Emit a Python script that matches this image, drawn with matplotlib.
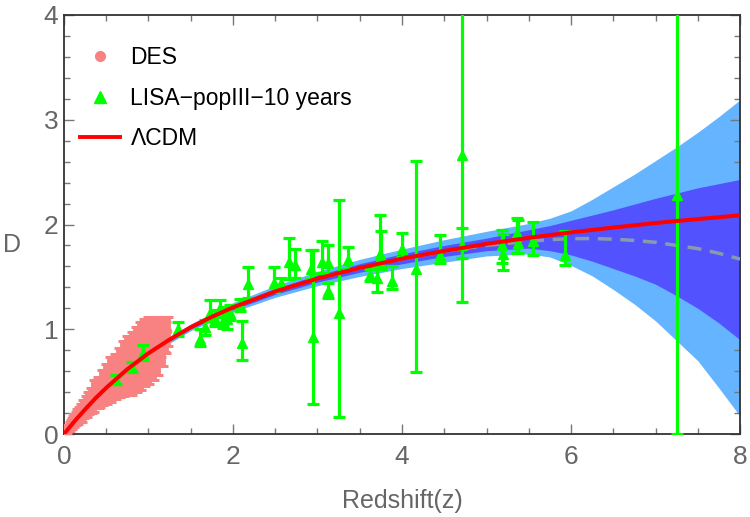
import matplotlib
matplotlib.use("Agg")
import matplotlib.pyplot as plt
from matplotlib.lines import Line2D

plt.rcParams['font.family'] = ['Liberation Sans Narrow', 'Liberation Sans', 'DejaVu Sans']

# LCDM curve
lcdm_z = [0, 0.125, 0.25, 0.375, 0.5, 0.75, 1.0, 1.25, 1.5, 1.75, 2.0, 2.5, 3.0, 3.5, 4.0, 4.5, 5.0, 5.5, 6.0, 6.5, 7.0, 7.5, 8.0]
lcdm_D = [0, 0.122, 0.235, 0.343, 0.441, 0.619, 0.771, 0.902, 1.019, 1.119, 1.209, 1.361, 1.484, 1.586, 1.674, 1.748, 1.815, 1.873, 1.925, 1.971, 2.014, 2.052, 2.088]

# reconstruction: mean and 1/2 sigma bands
band_z = [0, 0.5, 1.0, 1.5, 2.0, 2.5, 3.0, 3.5, 4.0, 4.5, 5.0, 5.5, 5.75, 6.0, 6.25, 6.5, 6.75, 7.0, 7.25, 7.5, 7.75, 8.0]
rec_mean = [0, 0.441, 0.771, 1.019, 1.209, 1.361, 1.484, 1.585, 1.672, 1.745, 1.800, 1.840, 1.855, 1.865, 1.866, 1.860, 1.848, 1.830, 1.800, 1.770, 1.725, 1.670]
rec_hi1 = [0, 0.448, 0.783, 1.035, 1.231, 1.389, 1.518, 1.626, 1.720, 1.800, 1.870, 1.950, 1.990, 2.040, 2.090, 2.140, 2.195, 2.250, 2.300, 2.350, 2.390, 2.430]
rec_lo1 = [0, 0.434, 0.759, 1.003, 1.187, 1.333, 1.450, 1.545, 1.625, 1.695, 1.750, 1.775, 1.750, 1.710, 1.650, 1.580, 1.510, 1.430, 1.320, 1.200, 1.060, 0.900]
rec_hi2 = [0, 0.455, 0.795, 1.051, 1.253, 1.417, 1.552, 1.667, 1.765, 1.855, 1.935, 2.010, 2.060, 2.130, 2.240, 2.360, 2.480, 2.610, 2.740, 2.880, 3.030, 3.190]
rec_lo2 = [0, 0.427, 0.747, 0.987, 1.165, 1.305, 1.416, 1.504, 1.580, 1.640, 1.700, 1.720, 1.690, 1.610, 1.510, 1.380, 1.240, 1.080, 0.890, 0.700, 0.440, 0.170]

# DES points
des_z = [0.02, 0.04, 0.05, 0.07, 0.08, 0.10, 0.11, 0.12, 0.14, 0.15, 0.17, 0.18, 0.20, 0.21, 0.23, 0.24,
         0.26, 0.27, 0.29, 0.30, 0.32, 0.33, 0.35, 0.36, 0.38, 0.40, 0.41, 0.43, 0.45, 0.46, 0.48, 0.50,
         0.51, 0.53, 0.55, 0.56, 0.58, 0.60, 0.61, 0.63, 0.65, 0.66, 0.68, 0.70, 0.71, 0.73, 0.75, 0.76,
         0.78, 0.80, 0.81, 0.83, 0.85, 0.86, 0.88, 0.90, 0.91, 0.93, 0.95, 0.96, 0.98, 1.00, 1.01, 1.03,
         1.05, 1.06, 1.08, 1.10, 1.11, 1.13, 1.15, 1.17, 1.19, 1.21, 1.23]
des_D = [0.02, 0.04, 0.06, 0.07, 0.09, 0.10, 0.12, 0.13, 0.15, 0.17, 0.16, 0.19, 0.21, 0.18, 0.24, 0.22,
         0.27, 0.24, 0.30, 0.27, 0.33, 0.29, 0.40, 0.31, 0.36, 0.42, 0.34, 0.38, 0.47, 0.40, 0.44, 0.52,
         0.41, 0.47, 0.58, 0.44, 0.50, 0.60, 0.46, 0.55, 0.66, 0.50, 0.58, 0.72, 0.52, 0.62, 0.77, 0.55,
         0.66, 0.80, 0.57, 0.70, 0.85, 0.60, 0.74, 0.90, 0.62, 0.78, 0.93, 0.66, 0.80, 0.94, 0.69, 0.84,
         0.92, 0.73, 0.86, 0.94, 0.76, 0.90, 0.93, 0.85, 0.95, 0.92, 0.98]
des_err = [0.02, 0.03, 0.03, 0.04, 0.04, 0.05, 0.05, 0.06, 0.06, 0.07, 0.06, 0.07, 0.08, 0.07, 0.08, 0.07,
           0.09, 0.08, 0.10, 0.08, 0.11, 0.09, 0.12, 0.10, 0.11, 0.12, 0.09, 0.12, 0.14, 0.12, 0.13, 0.15,
           0.12, 0.14, 0.16, 0.13, 0.15, 0.16, 0.13, 0.15, 0.16, 0.15, 0.16, 0.17, 0.16, 0.17, 0.17, 0.18,
           0.18, 0.17, 0.20, 0.18, 0.17, 0.20, 0.19, 0.17, 0.20, 0.19, 0.17, 0.20, 0.18, 0.18, 0.21, 0.20,
           0.19, 0.21, 0.20, 0.18, 0.20, 0.20, 0.19, 0.20, 0.17, 0.15, 0.14]

# LISA popIII 10 yr points (asymmetric errors)
lisa_z = [0.62, 0.80, 0.94, 1.35, 1.61, 1.67, 1.73, 1.79, 1.85, 1.88, 1.93, 1.97, 2.08, 2.11, 2.18,
          2.48, 2.57, 2.66, 2.73, 2.92, 2.95, 3.05, 3.12, 3.13, 3.25, 3.36, 3.62, 3.70, 3.74, 3.75,
          3.88, 4.00, 4.16, 4.45, 4.71, 4.71, 5.18, 5.19, 5.36, 5.37, 5.55, 5.93, 7.25]
lisa_D = [0.52, 0.64, 0.77, 1.00, 0.91, 1.02, 1.16, 1.10, 1.20, 1.08, 1.10, 1.16, 1.23, 0.87, 1.43,
          1.44, 1.44, 1.64, 1.61, 1.58, 0.93, 1.64, 1.37, 1.63, 1.16, 1.66, 1.52, 1.49, 1.72, 1.70,
          1.46, 1.77, 1.58, 1.71, 2.66, 1.80, 1.80, 1.72, 1.92, 1.82, 1.84, 1.71, 2.28]
lisa_lo = [0.04, 0.05, 0.06, 0.06, 0.07, 0.07, 0.08, 0.07, 0.08, 0.07, 0.10, 0.07, 0.06, 0.16, 0.13,
           0.08, 0.05, 0.16, 0.12, 0.10, 0.64, 0.10, 0.07, 0.10, 1.00, 0.08, 0.06, 0.13, 0.12, 0.12,
           0.08, 0.08, 0.99, 0.08, 1.40, 0.12, 0.17, 0.15, 0.19, 0.09, 0.13, 0.10, 2.28]
lisa_hi = [0.04, 0.05, 0.08, 0.07, 0.09, 0.07, 0.12, 0.08, 0.08, 0.08, 0.11, 0.07, 0.06, 0.21, 0.16,
           0.15, 0.05, 0.23, 0.16, 0.18, 0.83, 0.20, 0.07, 0.17, 1.07, 0.13, 0.06, 0.10, 0.37, 0.24,
           0.14, 0.15, 1.03, 0.19, 1.60, 0.17, 0.15, 0.19, 0.14, 0.22, 0.18, 0.23, 2.00]

fig = plt.figure(figsize=(7.5, 5.17), dpi=100)
ax = fig.add_axes([0.0853, 0.1605, 0.9014, 0.8105])

ax.fill_between(band_z, rec_lo2, rec_hi2, color='#64B4FF', lw=0, zorder=1)
ax.fill_between(band_z, rec_lo1, rec_hi1, color='#5252FF', lw=0, zorder=2)
ax.plot(band_z, rec_mean, color='#8A9AAE', lw=2.5, ls=(0, (4, 2.5)), zorder=3)

ax.errorbar(des_z, des_D, yerr=des_err, fmt='o', color='#F88282', ms=4.5,
            elinewidth=4.2, capsize=3.5, capthick=2.2, zorder=4)
ax.errorbar(lisa_z, lisa_D, yerr=[lisa_lo, lisa_hi], fmt='^', color='#00FF00', ms=7,
            elinewidth=2.3, capsize=4.5, capthick=2.3, zorder=5)
ax.plot(lcdm_z, lcdm_D, color='#FF0000', lw=2.9, zorder=6, solid_capstyle='round')

ax.set_xlim(0, 8)
ax.set_ylim(0, 4)
ax.set_xticks([0, 2, 4, 6, 8])
ax.set_xticks([0.5 * i for i in range(17)], minor=True)
ax.set_yticks([0, 1, 2, 3, 4])
ax.set_yticks([0.2 * i for i in range(21)], minor=True)
ax.tick_params(which='both', direction='in', top=True, right=True, colors='#777777',
               labelcolor='#666666', labelsize=19, width=1)
ax.tick_params(which='major', length=7)
ax.tick_params(which='minor', length=4)
ax.tick_params(axis='x', pad=8)
ax.tick_params(axis='y', pad=4)
for s in ax.spines.values():
    s.set_color('#333333')
    s.set_linewidth(1.3)

ax.set_xlabel('Redshift(z)', fontsize=18, color='#666666', labelpad=14)
ax.set_ylabel('D', fontsize=18, color='#666666', rotation=0, va='center', ha='center')
ax.yaxis.set_label_coords(-0.077, 0.45)

handles = [Line2D([], [], ls='none', marker='o', color='#F88282', ms=7),
           Line2D([], [], ls='none', marker='^', color='#00FF00', ms=9),
           Line2D([], [], color='#FF0000', lw=2.8)]
ax.legend(handles, ['DES', 'LISA\u2212popIII\u221210 years', '\u039bCDM'], loc='upper left',
          frameon=False, fontsize=16.5, handlelength=1.75, handletextpad=0.45, labelspacing=0.78,
          borderaxespad=0.3, bbox_to_anchor=(0.0, 0.965))

fig.savefig('out.png', dpi=100)
